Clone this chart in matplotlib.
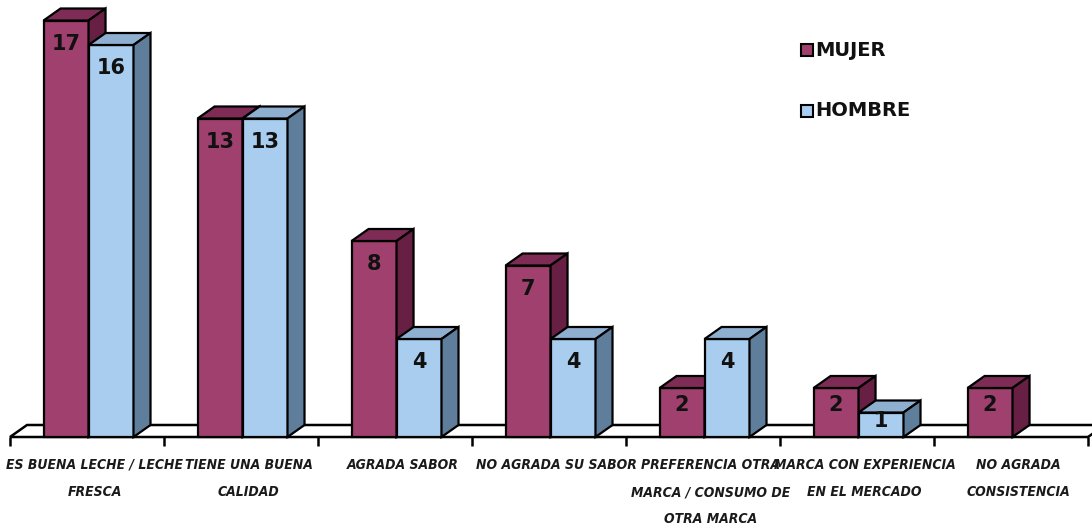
import matplotlib
matplotlib.use("Agg")
import matplotlib.pyplot as plt
from matplotlib.patches import Polygon

categories = [
    "ES BUENA LECHE / LECHE\nFRESCA",
    "TIENE UNA BUENA\nCALIDAD",
    "AGRADA SABOR",
    "NO AGRADA SU SABOR",
    "PREFERENCIA OTRA\nMARCA / CONSUMO DE\nOTRA MARCA",
    "MARCA CON EXPERIENCIA\nEN EL MERCADO",
    "NO AGRADA\nCONSISTENCIA",
]
mujer = [17, 13, 8, 7, 2, 2, 2]
hombre = [16, 13, 4, 4, 4, 1, 0]
series_names = ["MUJER", "HOMBRE"]

# face colours: front, top, side
mujer_colors = ("#A0406F", "#7E2C55", "#672043")
hombre_colors = ("#A9CDEF", "#8FAFD0", "#5F7E9C")

W, H = 1092, 529
fig = plt.figure(figsize=(W / 100, H / 100), dpi=100)
ax = fig.add_axes([0, 0, 1, 1])

# pixel-aligned data scale: one category = 154 px, one unit = 24.5 px
px_cat, px_unit = 154.0, 24.5
x0_px, base_px = 10.0, 437.0
ax.set_xlim(-0.5 - x0_px / px_cat, (W - x0_px) / px_cat - 0.5)
ax.set_ylim(-(H - base_px) / px_unit, base_px / px_unit)
ax.axis("off")

dx = 17 / px_cat   # depth offset to the right
dy = 12 / px_unit  # depth offset upwards
n = len(categories)
left, right = -0.5, n - 0.5

# floor
floor = Polygon([(left, 0), (right, 0), (right + dx, dy), (left + dx, dy)],
                closed=True, facecolor="white", edgecolor="black", lw=1.8, zorder=1)
ax.add_patch(floor)
for k in range(n + 1):
    ax.plot([left + k, left + k], [0, -9 / px_unit], color="black", lw=1.8,
            zorder=1, solid_capstyle="butt")


def draw_box(x, w, h, colors, z):
    front, top, side = colors
    kw = dict(closed=True, edgecolor="black", lw=1.6, joinstyle="miter", zorder=z)
    ax.add_patch(Polygon([(x, 0), (x + w, 0), (x + w, h), (x, h)], facecolor=front, **kw))
    ax.add_patch(Polygon([(x, h), (x + w, h), (x + w + dx, h + dy), (x + dx, h + dy)],
                         facecolor=top, **kw))
    ax.add_patch(Polygon([(x + w, 0), (x + w + dx, dy), (x + w + dx, h + dy), (x + w, h)],
                         facecolor=side, **kw))


bw = 0.292
shift = 0.01
z = 2
for i in range(n):
    for vals, cols, off in ((mujer, mujer_colors, -bw), (hombre, hombre_colors, 0.0)):
        v = vals[i]
        if v <= 0:
            continue
        x = i + shift + off
        draw_box(x, bw, v, cols, z)
        z += 1
        ly = v - min(0.95, v * 0.35)
        ax.text(x + bw / 2, ly, str(v), ha="center", va="center", fontsize=15,
                fontweight="bold", color="#111111", zorder=z)
        z += 1

# category labels
for i, lab in enumerate(categories):
    ax.text(i + 0.05, -21 / px_unit, lab, ha="center", va="top", fontsize=10,
            fontweight="bold", style="italic", fontstretch="condensed",
            family="DejaVu Sans", color="#1a1a1a", linespacing=2.2, zorder=50)

# legend
for name, cols, ypx in ((series_names[0], mujer_colors, 50), (series_names[1], hombre_colors, 111)):
    fig.patches.append(plt.Rectangle(((801) / W, 1 - (ypx + 6) / H), 12 / W, 12 / H,
                                     transform=fig.transFigure, facecolor=cols[0],
                                     edgecolor="black", lw=1.5, figure=fig))
    fig.text(815 / W, 1 - ypx / H, name, ha="left", va="center", fontsize=14,
             fontweight="bold", color="#111111")

fig.savefig("out.png", dpi=100, facecolor="white")
